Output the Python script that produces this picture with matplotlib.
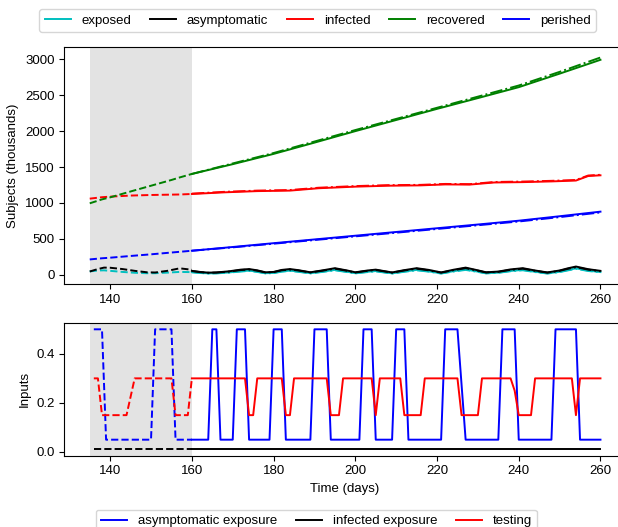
import matplotlib
matplotlib.use('Agg')
import matplotlib.pyplot as plt
from matplotlib.lines import Line2D

plt.rcParams['font.family'] = ['Liberation Sans', 'DejaVu Sans']
plt.rcParams['font.size'] = 9.5

# ---------------- top panel data (thousands) ----------------
hist_days = [135, 138, 140, 145, 150, 155, 157, 160]
recovered_hist = [995, 1050, 1078, 1160, 1240, 1320, 1355, 1404]
infected_hist = [1060, 1080, 1088, 1103, 1111, 1116, 1118, 1125]
perished_hist = [214, 230, 238, 262, 285, 310, 320, 335]

hist_osc_days = [135, 137, 138.5, 140, 143, 146, 149, 151, 154, 157, 160]
asym_hist = [46, 80, 100, 98, 80, 55, 35, 32, 55, 90, 70]
exposed_hist = [47, 60, 62, 55, 40, 28, 22, 22, 30, 40, 37]

smooth_days = [160, 170, 180, 190, 200, 210, 220, 230, 240, 250, 260]
recovered_pred = [1404, 1540, 1683, 1840, 2000, 2155, 2310, 2460, 2612, 2800, 2993]
recovered_pred2 = [1404, 1550, 1695, 1855, 2015, 2170, 2325, 2480, 2635, 2825, 3025]
perished_pred = [335, 387, 440, 492, 544, 596, 648, 700, 753, 815, 879]
perished_pred2 = [335, 382, 433, 484, 535, 586, 638, 690, 742, 803, 868]

inf_days = [160, 168, 176, 184, 191, 200, 208, 216, 222, 228, 234, 241, 248, 254, 257, 260]
infected_pred = [1125, 1148, 1165, 1172, 1205, 1227, 1240, 1245, 1258, 1256, 1285, 1290, 1300, 1312, 1375, 1385]
infected_pred2 = [1130, 1155, 1172, 1180, 1212, 1235, 1248, 1252, 1265, 1262, 1292, 1298, 1308, 1320, 1382, 1392]

osc_days = [160, 162, 164, 166, 169, 172, 174, 176, 178, 180,
            182, 184, 186, 189, 192, 195, 198, 200, 203, 205,
            207, 209, 212, 215, 218, 221, 224, 227, 230, 232,
            235, 238, 241, 244, 247, 250, 252, 254, 257, 260]
asym_pred = [55, 40, 30, 33, 48, 72, 80, 62, 35, 40,
             68, 80, 65, 35, 62, 92, 60, 35, 60, 72,
             52, 33, 65, 92, 68, 33, 70, 100, 62, 35,
             45, 75, 92, 60, 33, 60, 90, 115, 78, 55]
asym_pred2 = [52, 37, 28, 31, 44, 66, 73, 57, 32, 37,
              62, 73, 60, 32, 57, 85, 55, 32, 55, 66,
              48, 30, 60, 85, 62, 30, 64, 92, 57, 32,
              41, 69, 85, 55, 30, 55, 83, 106, 72, 50]
exposed_pred = [37, 27, 20, 22, 32, 50, 58, 44, 22, 26,
                48, 58, 46, 22, 44, 68, 42, 22, 42, 52,
                36, 20, 46, 68, 48, 20, 50, 74, 44, 22,
                30, 54, 68, 42, 20, 42, 66, 90, 58, 38]
exposed_pred2 = [35, 25, 18, 20, 30, 46, 54, 40, 20, 24,
                 44, 54, 42, 20, 40, 63, 38, 20, 38, 48,
                 33, 18, 42, 63, 44, 18, 46, 68, 40, 20,
                 28, 50, 63, 38, 18, 38, 61, 84, 53, 35]

# ---------------- bottom panel data (inputs) ----------------
asym_exp_days_hist = [136, 138, 139, 150, 151, 155, 156, 160]
asym_exp_hist = [0.5, 0.5, 0.05, 0.05, 0.5, 0.5, 0.05, 0.05]
asym_exp_days = [160, 164, 165, 166, 167, 170, 171, 173, 174, 179, 180, 182, 183,
                 189, 190, 193, 194, 201, 202, 204, 205, 209, 210, 212, 213,
                 221, 222, 225, 227, 235, 236, 239, 240, 248, 249, 254, 255, 260]
asym_exp = [0.05, 0.05, 0.5, 0.5, 0.05, 0.05, 0.5, 0.5, 0.05, 0.05, 0.5, 0.5, 0.05,
            0.05, 0.5, 0.5, 0.05, 0.05, 0.5, 0.5, 0.05, 0.05, 0.5, 0.5, 0.05,
            0.05, 0.5, 0.5, 0.05, 0.05, 0.5, 0.5, 0.05, 0.05, 0.5, 0.5, 0.05, 0.05]

inf_exp_days_hist = [136, 160]
inf_exp_hist = [0.01, 0.01]
inf_exp_days = [160, 260]
inf_exp = [0.01, 0.01]

test_days_hist = [136, 137, 138, 144, 146, 155, 156, 159, 160]
test_hist = [0.3, 0.3, 0.15, 0.15, 0.3, 0.3, 0.15, 0.15, 0.3]
test_days = [160, 173, 174, 175, 176, 182, 183, 184, 185, 193, 194, 196, 197,
             204, 205, 206, 211, 212, 216, 217, 225, 226, 230, 231,
             238, 239, 240, 243, 244, 253, 254, 255, 260]
test = [0.3, 0.3, 0.15, 0.15, 0.3, 0.3, 0.15, 0.15, 0.3, 0.3, 0.15, 0.15, 0.3,
        0.3, 0.15, 0.3, 0.3, 0.15, 0.15, 0.3, 0.3, 0.15, 0.15, 0.3,
        0.3, 0.25, 0.15, 0.15, 0.3, 0.3, 0.15, 0.3, 0.3]

top_labels = ['exposed', 'asymptomatic', 'infected', 'recovered', 'perished']
top_colors = ['c', 'k', 'r', 'g', 'b']
bottom_labels = ['asymptomatic exposure', 'infected exposure', 'testing']
bottom_colors = ['b', 'k', 'r']

W, H = 618, 527
fig = plt.figure(figsize=(W / 100, H / 100), dpi=100)

left_px, right_px = 64.2, 626
ax1 = fig.add_axes([left_px / W, 1 - 284.3 / H, (right_px - left_px) / W, (284.3 - 46.7) / H])
ax2 = fig.add_axes([left_px / W, 1 - 455.5 / H, (right_px - left_px) / W, (455.5 - 323.3) / H])

lw = 1.4
shade = '#e3e3e3'

# top panel
ax1.axvspan(135, 160, color=shade, lw=0, zorder=0)
ax1.plot(hist_osc_days, exposed_hist, '--', color='c', lw=lw)
ax1.plot(hist_osc_days, asym_hist, '--', color='k', lw=lw)
for vals, c in [(infected_hist, 'r'), (recovered_hist, 'g'), (perished_hist, 'b')]:
    ax1.plot(hist_days, vals, '--', color=c, lw=lw)
for d, v1, v2, c in [(osc_days, exposed_pred, exposed_pred2, 'c'),
                     (osc_days, asym_pred, asym_pred2, 'k'),
                     (inf_days, infected_pred, infected_pred2, 'r'),
                     (smooth_days, recovered_pred, recovered_pred2, 'g'),
                     (smooth_days, perished_pred, perished_pred2, 'b')]:
    ax1.plot(d, v1, '-', color=c, lw=lw)
    ax1.plot(d, v2, '-.', color=c, lw=lw)
ax1.set_ylabel('Subjects (thousands)')
ax1.set_xticks(range(140, 261, 20))
ax1.set_yticks(range(0, 3001, 500))

# bottom panel
ax2.axvspan(135, 160, color=shade, lw=0, zorder=0)
ax2.plot(asym_exp_days_hist, asym_exp_hist, '--', color='b', lw=lw)
ax2.plot(inf_exp_days_hist, inf_exp_hist, '--', color='k', lw=lw)
ax2.plot(test_days_hist, test_hist, '--', color='r', lw=lw)
ax2.plot(asym_exp_days, asym_exp, '-', color='b', lw=lw)
ax2.plot(inf_exp_days, inf_exp, '-', color='k', lw=lw)
ax2.plot(test_days, test, '-', color='r', lw=lw)
ax2.set_ylabel('Inputs')
ax2.set_xlabel('Time (days)')
ax2.set_xticks(range(140, 261, 20))
ax2.set_yticks([0.0, 0.2, 0.4])

for ax in (ax1, ax2):
    ax.set_xlim(128.75, 266.25)
    ax.spines['right'].set_visible(False)

top_handles = [Line2D([], [], color=c, lw=lw) for c in top_colors]
fig.legend(top_handles, top_labels, loc='center', ncol=5, fontsize=9.5,
           bbox_to_anchor=(317.6 / W, 1 - 20.7 / H), columnspacing=1.4)
bottom_handles = [Line2D([], [], color=c, lw=lw) for c in bottom_colors]
fig.legend(bottom_handles, bottom_labels, loc='center', ncol=3, fontsize=9.5,
           bbox_to_anchor=(316.4 / W, 1 - 521 / H), columnspacing=1.4)

fig.savefig('out.png', dpi=100)
